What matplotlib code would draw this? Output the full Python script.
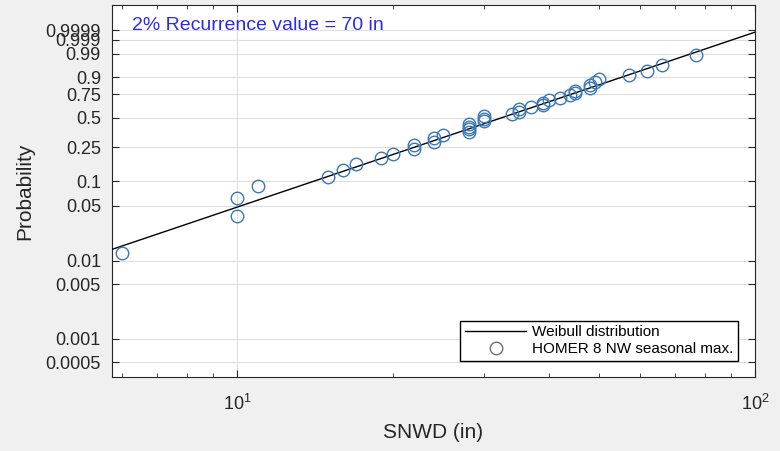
import matplotlib
matplotlib.use("Agg")
import matplotlib.pyplot as plt
import numpy as np

plt.rcParams['font.family'] = ['Liberation Sans', 'DejaVu Sans']

# seasonal max snow depth (in), sorted, with Hazen plotting positions
snwd = [6, 10, 10, 11, 15, 16, 17, 19, 20, 22, 22, 24, 24, 25, 28, 28, 28, 28,
        30, 30, 30, 34, 35, 35, 37, 39, 39, 40, 42, 44, 45, 45, 48, 48, 49, 50,
        57, 62, 66, 77]
n = len(snwd)
prob = [(i - 0.5) / n for i in range(1, n + 1)]

# fitted Weibull distribution
wb_scale = 38.2
wb_shape = 2.25

prob_ticks = [0.0005, 0.001, 0.005, 0.01, 0.05, 0.1, 0.25, 0.5, 0.75, 0.9, 0.99, 0.999, 0.9999]
prob_labels = ['0.0005', '0.001', '0.005', '0.01', '0.05', '0.1', '0.25', '0.5', '0.75', '0.9', '0.99', '0.999', '0.9999']


def fwd(p):
    p = np.clip(np.asarray(p, dtype=float), 1e-300, 1 - 1e-15)
    return np.log10(-np.log1p(-p))


def inv(t):
    return -np.expm1(-10.0 ** np.asarray(t, dtype=float))


fig = plt.figure(figsize=(7.8, 4.51), dpi=100, facecolor='#f0f0f0')
ax = fig.add_axes([0.1436, 0.1641, 0.8244, 0.8248])
ax.set_facecolor('white')

ax.set_xscale('log')
ax.set_yscale('function', functions=(fwd, inv))

xs = np.logspace(np.log10(5.74), 2, 200)
ax.plot(xs, 1 - np.exp(-(xs / wb_scale) ** wb_shape), color='black', lw=1,
        label='Weibull distribution', zorder=3)
ax.plot(snwd, prob, 'o', mfc='none', mec='#3a78b8', ms=9, mew=1,
        label='HOMER 8 NW seasonal max.', zorder=4)

ax.set_xlim(5.74, 100)
ax.set_ylim(inv(-3.492), inv(1.289))
ax.set_yticks(prob_ticks)
ax.set_yticklabels(prob_labels)
ax.yaxis.set_minor_locator(matplotlib.ticker.NullLocator())

ax.grid(True, which='major', color='#dedede', lw=0.8)
ax.set_axisbelow(True)
ax.tick_params(which='both', direction='in', top=True, right=True, colors='#262626')
ax.tick_params(axis='y', labelsize=13, pad=8, length=5)
ax.tick_params(axis='x', which='major', labelsize=13, pad=12, length=5)
ax.tick_params(axis='x', which='minor', length=3)
for s in ax.spines.values():
    s.set_color('#262626')

ax.set_xlabel('SNWD (in)', fontsize=15, color='#262626')
ax.set_ylabel('Probability', fontsize=15, color='#262626')
ax.xaxis.set_label_coords(0.5, -0.125)
ax.yaxis.set_label_coords(-0.121, 0.5)

ax.text(0.031, 0.944, '2% Recurrence value = 70 in', transform=ax.transAxes,
        color='#2b2bea', fontsize=14, va='center', ha='left')

leg = ax.legend(loc='lower right', bbox_to_anchor=(0.9736, 0.043), borderaxespad=0,
                fontsize=11, handlelength=4, handletextpad=0.4, borderpad=0.3,
                labelspacing=0.2, fancybox=False, framealpha=1)
leg.get_frame().set_edgecolor('black')
leg.get_frame().set_linewidth(1)
leg.legend_handles[1].set_markeredgecolor('#707070')

fig.savefig('out.png', dpi=100, facecolor=fig.get_facecolor())
